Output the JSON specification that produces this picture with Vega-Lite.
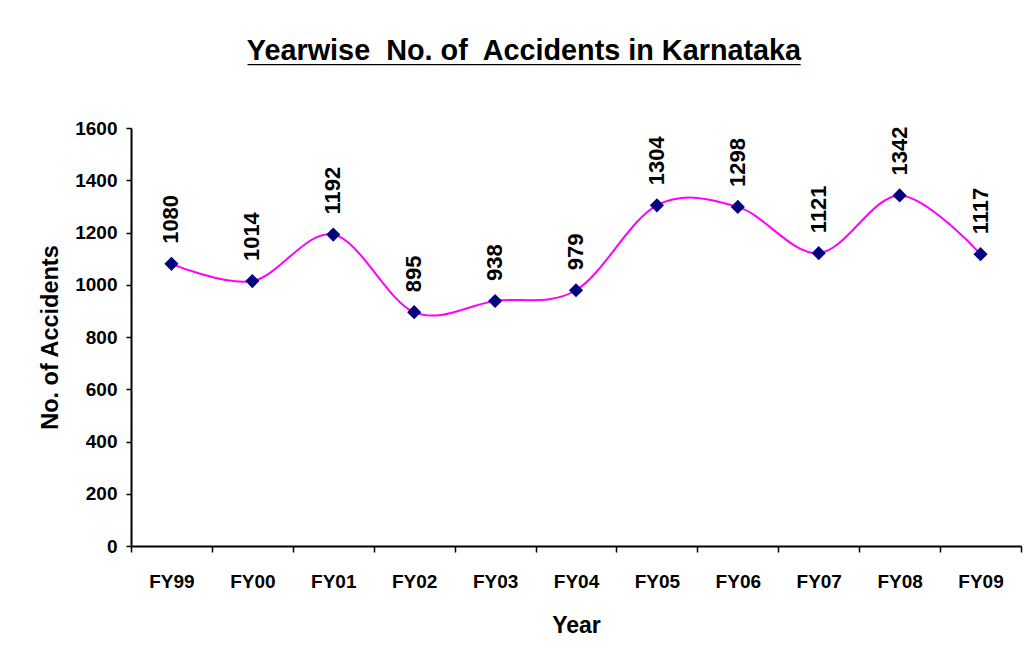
{
  "$schema": "https://vega.github.io/schema/vega-lite/v6.json",
  "width": 890,
  "height": 418,
  "autosize": {"type": "none"},
  "padding": {"left": 131, "top": 128, "right": 3, "bottom": 120},
  "background": "white",
  "config": {
    "view": {"stroke": null},
    "font": "Liberation Sans"
  },
  "title": {
    "text": "Yearwise\u00a0 No. of\u00a0 Accidents in Karnataka",
    "subtitle": "___________________________________",
    "font": "Liberation Sans",
    "fontSize": 28.8,
    "fontWeight": "bold",
    "color": "black",
    "subtitleFont": "Liberation Sans",
    "subtitleFontSize": 28.4,
    "subtitleFontWeight": "bold",
    "subtitleColor": "black",
    "subtitlePadding": -26,
    "anchor": "middle",
    "dx": -52,
    "offset": 52
  },
  "data": {
    "values": [
      {"year": "FY99", "accidents": 1080},
      {"year": "FY00", "accidents": 1014},
      {"year": "FY01", "accidents": 1192},
      {"year": "FY02", "accidents": 895},
      {"year": "FY03", "accidents": 938},
      {"year": "FY04", "accidents": 979},
      {"year": "FY05", "accidents": 1304},
      {"year": "FY06", "accidents": 1298},
      {"year": "FY07", "accidents": 1121},
      {"year": "FY08", "accidents": 1342},
      {"year": "FY09", "accidents": 1117}
    ]
  },
  "encoding": {
    "x": {
      "field": "year",
      "type": "ordinal",
      "sort": null,
      "scale": {"paddingInner": 0, "paddingOuter": 0},
      "axis": {
        "title": "Year",
        "titleFont": "Liberation Sans",
        "titleFontSize": 23,
        "titleFontWeight": "bold",
        "titleColor": "black",
        "titlePadding": 23,
        "labelFont": "Liberation Sans",
        "labelFontSize": 19,
        "labelFontWeight": "bold",
        "labelColor": "black",
        "labelAngle": 0,
        "labelPadding": 20,
        "tickBand": "extent",
        "tickSize": 6,
        "tickColor": "black",
        "tickWidth": 1.5,
        "domainColor": "black",
        "domainWidth": 2,
        "grid": false
      }
    },
    "y": {
      "field": "accidents",
      "type": "quantitative",
      "scale": {"domain": [0, 1600], "nice": false},
      "axis": {
        "title": "No. of Accidents",
        "titleFont": "Liberation Sans",
        "titleFontSize": 23.5,
        "titleFontWeight": "bold",
        "titleColor": "black",
        "titlePadding": 12,
        "values": [0, 200, 400, 600, 800, 1000, 1200, 1400, 1600],
        "format": "d",
        "labelFont": "Liberation Sans",
        "labelFontSize": 19,
        "labelFontWeight": "bold",
        "labelColor": "black",
        "labelPadding": 9,
        "tickSize": 5,
        "tickColor": "black",
        "tickWidth": 1.5,
        "domainColor": "black",
        "domainWidth": 2,
        "grid": false
      }
    }
  },
  "layer": [
    {
      "mark": {"type": "line", "interpolate": "cardinal", "tension": 0, "color": "#FF00FF", "strokeWidth": 2}
    },
    {
      "mark": {"type": "point", "shape": "diamond", "filled": true, "size": 200, "color": "#000080", "opacity": 1}
    },
    {
      "mark": {"type": "text", "angle": 270, "align": "left", "baseline": "middle", "dx": 20, "font": "Liberation Sans", "fontSize": 22, "fontWeight": "bold", "color": "black"},
      "encoding": {"text": {"field": "accidents", "type": "quantitative"}}
    }
  ]
}
